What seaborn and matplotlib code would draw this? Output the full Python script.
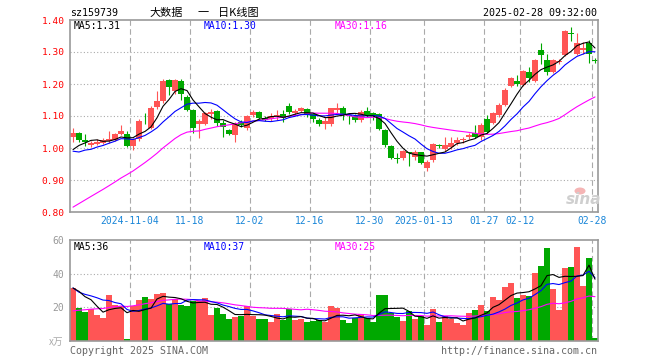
import numpy as np
import pandas as pd
import matplotlib
matplotlib.use('Agg')
import matplotlib.pyplot as plt
from matplotlib.patches import Ellipse
import seaborn as sns

# daily bars 2024-10-21 .. 2025-02-28, 88 sessions
open_ = [1.033, 1.048, 1.025, 1.008, 1.012, 1.017, 1.021, 1.025, 1.044, 1.044,
         1.005, 1.027, 1.089, 1.062, 1.129, 1.148, 1.2125, 1.178, 1.21, 1.158,
         1.119, 1.074, 1.076, 1.105, 1.115, 1.077, 1.056, 1.041, 1.082, 1.062,
         1.102, 1.113, 1.094, 1.090, 1.100, 1.105, 1.132, 1.108, 1.116, 1.121,
         1.106, 1.088, 1.075, 1.075, 1.119, 1.125, 1.101, 1.100, 1.088, 1.115,
         1.108, 1.106, 1.056, 1.006, 0.969, 0.968, 0.986, 0.972, 0.987, 0.937,
         0.962, 1.009, 0.996, 1.004, 1.015, 1.025, 1.033, 1.046, 1.035, 1.092,
         1.079, 1.103, 1.133, 1.194, 1.209, 1.197, 1.239, 1.209, 1.306, 1.275,
         1.239, 1.270, 1.291, 1.360, 1.294, 1.305, 1.329, 1.275]
high = [1.061, 1.050, 1.044, 1.021, 1.027, 1.031, 1.052, 1.048, 1.071, 1.054,
        1.032, 1.090, 1.110, 1.130, 1.177, 1.215, 1.215, 1.215, 1.215, 1.165,
        1.122, 1.090, 1.112, 1.122, 1.120, 1.087, 1.060, 1.080, 1.086, 1.104,
        1.120, 1.116, 1.100, 1.108, 1.120, 1.120, 1.140, 1.121, 1.129, 1.126,
        1.108, 1.095, 1.098, 1.126, 1.140, 1.131, 1.106, 1.106, 1.119, 1.127,
        1.112, 1.108, 1.058, 1.009, 0.985, 0.994, 0.988, 0.993, 0.989, 0.962,
        1.015, 1.011, 1.033, 1.035, 1.035, 1.033, 1.048, 1.073, 1.077, 1.104,
        1.114, 1.142, 1.186, 1.221, 1.228, 1.244, 1.254, 1.277, 1.327, 1.294,
        1.277, 1.277, 1.369, 1.379, 1.358, 1.330, 1.338, 1.280]
low = [1.020, 1.020, 1.006, 1.002, 1.008, 1.013, 1.017, 1.021, 1.040, 1.002,
       0.995, 1.023, 1.075, 1.060, 1.123, 1.142, 1.167, 1.170, 1.150, 1.115,
       1.046, 1.032, 1.073, 1.092, 1.070, 1.035, 1.040, 1.020, 1.066, 1.057,
       1.096, 1.090, 1.084, 1.085, 1.088, 1.082, 1.106, 1.104, 1.112, 1.098,
       1.080, 1.069, 1.060, 1.070, 1.106, 1.088, 1.076, 1.080, 1.082, 1.098,
       1.086, 1.056, 1.004, 0.965, 0.952, 0.963, 0.944, 0.962, 0.950, 0.929,
       0.956, 1.000, 0.992, 0.996, 1.010, 1.015, 1.027, 1.030, 1.025, 1.047,
       1.075, 1.098, 1.131, 1.192, 1.194, 1.194, 1.207, 1.206, 1.263, 1.228,
       1.235, 1.262, 1.289, 1.335, 1.290, 1.295, 1.265, 1.265]
close = [1.048, 1.025, 1.019, 1.015, 1.020, 1.025, 1.029, 1.044, 1.054, 1.006,
         1.028, 1.085, 1.086, 1.125, 1.148, 1.208, 1.190, 1.2125, 1.168, 1.119,
         1.061, 1.083, 1.108, 1.111, 1.077, 1.065, 1.044, 1.076, 1.072, 1.099,
         1.111, 1.093, 1.088, 1.100, 1.104, 1.094, 1.113, 1.117, 1.124, 1.102,
         1.090, 1.075, 1.084, 1.125, 1.125, 1.103, 1.100, 1.088, 1.112, 1.102,
         1.100, 1.060, 1.009, 0.969, 0.967, 0.991, 0.984, 0.987, 0.954, 0.957,
         1.0125, 1.006, 1.008, 1.017, 1.025, 1.029, 1.042, 1.033, 1.073, 1.050,
         1.108, 1.133, 1.181, 1.218, 1.200, 1.241, 1.218, 1.275, 1.291, 1.239,
         1.275, 1.273, 1.366, 1.356, 1.329, 1.312, 1.294, 1.272]
# volume in 万
volume = [31.5, 19.9, 17.3, 18.9, 15.7, 13.9, 27.1, 21.1, 20.9, 1.0,
          20.7, 24.5, 26.3, 25.1, 28.1, 28.7, 22.1, 25.1, 21.5, 20.5,
          23.9, 23.5, 25.7, 15.5, 19.9, 15.9, 13.1, 14.3, 15.1, 20.7,
          15.1, 12.9, 13.1, 11.2, 15.9, 12.4, 18.9, 12.2, 13.1, 11.2,
          11.8, 12.4, 11.4, 20.9, 19.5, 12.4, 10.8, 13.9, 15.9, 13.9,
          11.2, 27.5, 27.5, 16.5, 14.3, 11.8, 17.9, 13.1, 15.1, 9.4,
          19.1, 11.2, 15.1, 13.1, 10.6, 9.4, 16.7, 18.5, 21.1, 17.9,
          25.9, 24.5, 31.9, 34.7, 25.3, 27.5, 26.9, 40.2, 44.4, 55.2,
          30.7, 18.5, 43.4, 43.8, 55.8, 32.9, 49.4, 1.6]

# 29 sessions before the window (not drawn, only warm up the moving averages)
prev_close = [0.69, 0.685, 0.68, 0.69, 0.695, 0.685, 0.69, 0.685, 0.685, 0.69,
              0.69, 0.69, 0.70, 0.70, 0.71, 0.75, 0.77, 0.81, 0.88, 0.98,
              1.05, 0.96, 0.99, 0.95, 0.975, 0.96, 0.98, 0.975, 1.012]
prev_volume = [8.5, 9, 8, 9, 8.5, 9, 8.5, 8.5, 9, 8.5,
               7, 6.5, 7, 7.5, 8, 13, 15, 17, 24, 30.5,
               45, 30, 28, 27, 27.5, 30, 33, 28, 35]

tick_idx = [10, 20, 30, 40, 50, 59, 69, 75, 87]
tick_labels = ['2024-11-04', '11-18', '12-02', '12-16', '12-30',
               '2025-01-13', '01-27', '02-12', '02-28']

RED = '#ff5555'
GREEN = '#00a800'
GRID = '#aaaaaa'
MONO = 'DejaVu Sans Mono'

sns.set_style('white')
plt.rcParams['font.family'] = [MONO, 'Noto Sans CJK SC']

n = len(close)
k = len(prev_close)
df = pd.DataFrame({'i': np.arange(n), 'open': open_, 'high': high,
                   'low': low, 'close': close, 'vol': volume})
px = pd.Series(prev_close + close)
vx = pd.Series(prev_volume + volume)
for w in (5, 10, 30):
    df[f'ma{w}'] = px.rolling(w).mean().iloc[k:].to_numpy()
    df[f'vma{w}'] = vx.rolling(w).mean().iloc[k:].to_numpy()

up = df['close'] >= df['open']
cols = np.where(up, RED, GREEN)

W, H = 660, 360
fig = plt.figure(figsize=(6.6, 3.6), dpi=100)
ax = fig.add_axes([70 / W, 1 - 212 / H, 528 / W, 192 / H])
axv = fig.add_axes([70 / W, 1 - 341 / H, 528 / W, 101 / H])

def px2fig(x, y):
    return x / W, 1 - y / H

#price panel
for y in [0.9, 1.0, 1.1, 1.2, 1.3]:
    ax.axhline(y, color=GRID, ls=(0, (1, 2)), lw=0.8, zorder=0)
for t in tick_idx:
    ax.axvline(t - 0.5, color=GRID, ls=(0, (5, 3)), lw=0.8, zorder=0)

body = np.maximum((df['close'] - df['open']).abs(), 0.0025)
ax.vlines(df['i'], df['low'], df['high'], colors=cols, lw=0.8, zorder=2)
ax.bar(df['i'], body, bottom=np.minimum(df['open'], df['close']),
       width=0.84, color=cols, linewidth=0, zorder=2)

sns.lineplot(data=df, x='i', y='ma30', ax=ax, color='#ff00ff', lw=0.8, zorder=3)
sns.lineplot(data=df, x='i', y='ma10', ax=ax, color='#0000ff', lw=0.8, zorder=3)
sns.lineplot(data=df, x='i', y='ma5', ax=ax, color='black', lw=0.8, zorder=3)

ax.set_xlim(-0.5, n - 0.5)
ax.set_ylim(0.8, 1.4)
ax.set_yticks([0.8, 0.9, 1.0, 1.1, 1.2, 1.3, 1.4])
ax.set_yticklabels([f'{v:.2f}' for v in ax.get_yticks()])
ax.set_xticks([t - 0.5 for t in tick_idx])
ax.set_xticklabels(tick_labels)
ax.tick_params(axis='y', length=0, pad=4, labelsize=6.8, labelcolor='red')
ax.tick_params(axis='x', length=0, pad=3, labelsize=7, labelcolor='#1a86d8')
ax.set_xlabel('')
ax.set_ylabel('')

ax.text(4 / 528, 1 - 6 / 192, 'MA5:1.31', transform=ax.transAxes, fontsize=7,
        color='black', va='center', ha='left')
ax.text(134 / 528, 1 - 6 / 192, 'MA10:1.30', transform=ax.transAxes, fontsize=7,
        color='#0000ff', va='center', ha='left')
ax.text(265 / 528, 1 - 6 / 192, 'MA30:1.16', transform=ax.transAxes, fontsize=7,
        color='#ff00ff', va='center', ha='left')

#volume panel
for y in [20, 40]:
    axv.axhline(y, color=GRID, ls=(0, (1, 2)), lw=0.8, zorder=0)
for t in tick_idx:
    axv.axvline(t - 0.5, color=GRID, ls=(0, (5, 3)), lw=0.8, zorder=0)
axv.bar(df['i'], df['vol'], width=0.84, color=cols, linewidth=0, zorder=2)
sns.lineplot(data=df, x='i', y='vma30', ax=axv, color='#ff00ff', lw=0.8, zorder=3)
sns.lineplot(data=df, x='i', y='vma10', ax=axv, color='#0000ff', lw=0.8, zorder=3)
sns.lineplot(data=df, x='i', y='vma5', ax=axv, color='black', lw=0.8, zorder=3)
axv.set_xlim(-0.5, n - 0.5)
axv.set_ylim(0, 60)
axv.set_yticks([20, 40, 60])
axv.set_xticks([])
axv.tick_params(axis='y', length=0, pad=4, labelsize=7, labelcolor='#999999')
axv.set_xlabel('')
axv.set_ylabel('')
axv.text(4 / 528, 1 - 7 / 101, 'MA5:36', transform=axv.transAxes, fontsize=7,
         color='black', va='center', ha='left')
axv.text(134 / 528, 1 - 7 / 101, 'MA10:37', transform=axv.transAxes, fontsize=7,
         color='#0000ff', va='center', ha='left')
axv.text(265 / 528, 1 - 7 / 101, 'MA30:25', transform=axv.transAxes, fontsize=7,
         color='#ff00ff', va='center', ha='left')

for a in (ax, axv):
    for s in a.spines.values():
        s.set_color('#999999')
        s.set_linewidth(1.2)

#header and footer text
fig.text(*px2fig(70, 13), 'sz159739', fontsize=7.2, color='black', va='center')
for x, s in [(149, '大数据'), (198, '一'), (218, '日K线图')]:
    fig.text(*px2fig(x, 13), s, fontsize=8, color='black', va='center',
             family=['Noto Sans CJK SC', MONO])
fig.text(*px2fig(597, 13), '2025-02-28 09:32:00', fontsize=7.2, color='black',
         va='center', ha='right')
fig.text(*px2fig(63, 342), 'x万', fontsize=7, color='#aaaaaa', va='center',
         ha='right', family=['Noto Sans CJK SC', MONO])
fig.text(*px2fig(70, 351), 'Copyright 2025 SINA.COM', fontsize=7.2,
         color='#666666', va='center', ha='left')
fig.text(*px2fig(597, 351), 'http://finance.sina.com.cn', fontsize=7.2,
         color='#666666', va='center', ha='right')

# sina watermark
fig.patches.append(Ellipse(px2fig(580, 191), 11 / W, 7 / H, transform=fig.transFigure,
                           facecolor='#f5b5b5', edgecolor='none'))
fig.text(*px2fig(584, 199), 'sina', fontsize=11, color='#cfcfcf', va='center',
         ha='center', style='italic', weight='bold', family='DejaVu Sans')

fig.savefig('out.png', dpi=100, facecolor='white')
